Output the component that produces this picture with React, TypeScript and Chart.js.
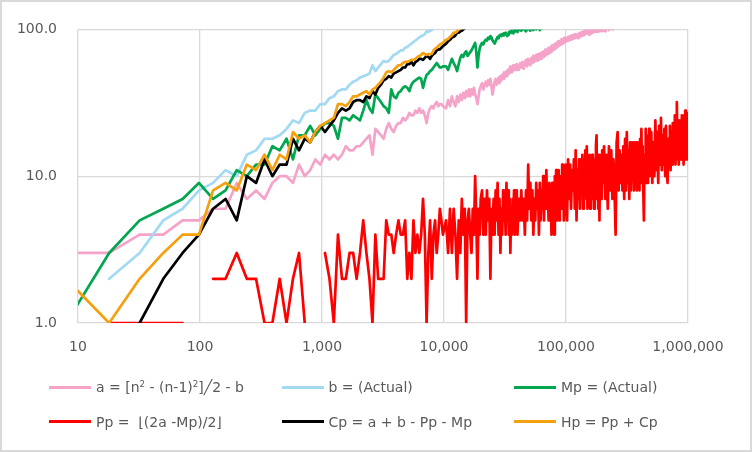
import { useEffect, useRef } from "react";
import { Chart, registerables } from "chart.js";

Chart.register(...registerables);

// x of the samples: n = 2..70 (x = 2n²), then a denser sampling up to 1,000,000
const X_LOW = [
  8, 18, 32, 50, 72, 98, 128, 162, 200, 242,
  288, 338, 392, 450, 512, 578, 648, 722, 800, 882,
  968, 1058, 1152, 1250, 1352, 1458, 1568, 1682, 1800, 1922,
  2048, 2178, 2312, 2450, 2592, 2738, 2888, 3042, 3200, 3362,
  3528, 3698, 3872, 4050, 4232, 4418, 4608, 4802, 5000, 5202,
  5408, 5618, 5832, 6050, 6272, 6498, 6728, 6962, 7200, 7442,
  7688, 7938, 8192, 8450, 8712, 8978, 9248, 9522, 9800,
];
const X_HIGH = [
  10400, 10800, 11200, 11600, 12000, 12400, 12800, 13200, 13600, 14000,
  14400, 14800, 15200, 15600, 16000, 16400, 16800, 17200, 17600, 18000,
  18400, 18800, 19200, 19600, 20000,
  20500, 21000, 21500, 22000, 22500, 23000, 23500, 24000, 24500, 25000,
  25500, 26000, 26500, 27000, 27500, 28000, 28500, 29000, 29500, 30000,
  30500, 31000, 31500, 32000, 32500, 33000, 33500, 34000, 34500, 35000,
  35500, 36000, 36500, 37000, 37500, 38000, 38500, 39000, 39500, 40000,
  41000, 42000, 43000, 44000, 45000, 46000, 47000, 48000, 49000, 50000,
  51000, 52000, 53000, 54000, 55000, 56000, 57000, 58000, 59000, 60000,
  61000, 62000, 63000, 64000, 65000, 66000, 67000, 68000, 69000, 70000,
  71000, 72000, 73000, 74000, 75000, 76000, 77000, 78000, 79000, 80000,
  81000, 82000, 83000, 84000, 85000, 86000, 87000, 88000, 89000, 90000,
  91000, 92000, 93000, 94000, 95000, 96000, 97000, 98000, 99000, 100000,
  102000, 104000, 106000, 108000, 110000, 112000, 114000, 116000, 118000, 120000,
  122000, 124000, 126000, 128000, 130000, 132000, 134000, 136000, 138000, 140000,
  142000, 144000, 146000, 148000, 150000, 152000, 154000, 156000, 158000, 160000,
  162000, 164000, 166000, 168000, 170000, 172000, 174000, 176000, 178000, 180000,
  182000, 184000, 186000, 188000, 190000, 192000, 194000, 196000, 198000, 200000,
  205000, 210000, 215000, 220000, 225000, 230000, 235000, 240000, 245000, 250000,
  255000, 260000, 265000, 270000, 275000, 280000, 285000, 290000, 295000, 300000,
  305000, 310000, 315000, 320000, 325000, 330000, 335000, 340000, 345000, 350000,
  355000, 360000, 365000, 370000, 375000, 380000, 385000, 390000, 395000, 400000,
  405000, 410000, 415000, 420000, 425000, 430000, 435000, 440000, 445000, 450000,
  455000, 460000, 465000, 470000, 475000, 480000, 485000, 490000, 495000, 500000,
  510000, 520000, 530000, 540000, 550000, 560000, 570000, 580000, 590000, 600000,
  610000, 620000, 630000, 640000, 650000, 660000, 670000, 680000, 690000, 700000,
  710000, 720000, 730000, 740000, 750000, 760000, 770000, 780000, 790000, 800000,
  810000, 820000, 830000, 840000, 850000, 860000, 870000, 880000, 890000, 900000,
  910000, 920000, 930000, 940000, 950000, 960000, 970000, 980000, 990000, 1000000,
];

const A_LOW = [
  3, 3, 4, 4, 5, 5, 6, 6, 9, 7,
  8, 7, 9, 10, 10, 9, 12, 10, 11, 13,
  12, 14, 13, 14, 13, 14, 16, 15, 15, 16,
  16, 17, 18, 19, 14, 21, 20, 19, 18, 21,
  23, 21, 20, 22, 23, 23, 25, 24, 25, 27,
  26, 26, 28, 27, 29, 27, 28, 26, 23, 27,
  29, 30, 29, 31, 32, 30, 31, 31, 30,
];
const A_HIGH = [
  29, 33, 30, 35, 32, 30, 35, 32, 36, 33,
  37, 34, 38, 35, 39, 35, 39, 36, 40, 36,
  34, 31, 35, 39, 41,
  43, 39, 42, 44, 41, 45, 42, 46, 41, 36,
  40, 44, 46, 42, 45, 47, 43, 48, 45, 49,
  46, 51, 47, 50, 52, 48, 53, 50, 54, 56,
  51, 55, 52, 57, 53, 55, 57, 53, 58, 55,
  53, 59, 55, 60, 54, 59, 62, 56, 63, 59,
  57, 64, 59, 66, 60, 65, 67, 61, 68, 62,
  65, 69, 63, 70, 65, 71, 66, 73, 67, 72,
  68, 75, 69, 74, 76, 70, 78, 72, 77, 79,
  73, 80, 75, 81, 76, 83, 77, 82, 78, 84,
  79, 86, 80, 85, 81, 87, 82, 88, 83, 87,
  83, 89, 84, 90, 85, 91, 86, 92, 87, 93,
  88, 92, 87, 94, 89, 95, 90, 96, 91, 97,
  92, 98, 100, 94, 99, 93, 98, 92, 97, 100,
  94, 99, 95, 101, 96, 100, 102, 97, 101, 96,
  98, 103, 97, 102, 98, 104, 99, 97, 103, 105,
  98, 97, 102, 104, 99, 103, 105, 100, 104, 106,
  103, 108, 111,
];

const B_LOW = [
  null, 2, 3, 5, 6, 8, 9, 11, 10, 14,
  15, 18, 18, 19, 21, 24, 23, 27, 28, 28,
  31, 31, 34, 35, 38, 39, 39, 42, 44, 45,
  47, 48, 49, 50, 57, 52, 55, 58, 61, 60,
  61, 64, 67, 68, 70, 72, 72, 75, 76, 78,
  80, 82, 84, 86, 88, 90, 91, 93, 97, 96,
  98, 99, 101, 103, 104, 107,
];

const MP_LOW = [
  1, 3, 5, 6, 7, 9, 7, 8, 11, 10,
  12, 12, 16, 15, 18, 13, 19, 19, 22, 19,
  21, 23, 23, 22, 18, 25, 25, 24, 26, 25,
  24, 28, 33, 29, 27, 36, 34, 32, 30, 29,
  27, 39, 35, 34, 37, 38, 40, 41, 40, 38,
  42, 44, 45, 46, 47, 46, 40, 45, 49, 50,
  52, 53, 55, 57, 59, 57, 55, 55, 56,
];
const MP_HIGH = [
  56, 53, 58, 63, 59, 56, 52, 58, 64, 67,
  65, 69, 71, 66, 68, 70, 72, 75, 78, 81,
  70, 55, 66, 74, 78,
  81, 79, 83, 85, 84, 88, 86, 90, 88, 84,
  82, 80, 83, 86, 89, 87, 91, 92, 90, 93,
  91, 94, 92, 95, 93, 90, 92, 96, 94, 97,
  95, 98, 96, 94, 97, 99, 97, 100, 98, 96,
  99, 101, 98, 100, 103, 99, 97, 101, 104, 100,
  98, 102, 105, 99, 101, 104, 100, 103, 106, 101,
  99, 104, 107, 102, 108, 110,
];

const PP_LOW = [
  null, 1, 1, 1, 1, null, 2, 2, 3, 2,
  2, 1, 1, 2, 1, 2, 3, 1, null, null,
  null, 3, 2, 1, 4, 2, 2, 3, 3, 2,
  3, 5, 3, 2, 1, 4, 2, 2, 2, 5,
  4, 4, 3, 4, 5, 4, 4, 5, 2, 3,
  2, 5, 3, 4, 3, 4, 7, 4, 1, 3,
  5, 2, 4, 5, 3, 4, 6, 5, 4,
];
const PP_HIGH = [
  5, 3, 6, 3, 6, 4, 2, 5, 3, 7,
  4, 6, 1, 5, 6, 4, 3, 6, 4, 10,
  5, 2, 6, 4, 7,
  8, 4, 7, 4, 8, 5, 7, 2, 6, 4,
  7, 4, 8, 5, 9, 4, 7, 3, 6, 4,
  8, 5, 7, 4, 9, 5, 8, 4, 7, 3,
  6, 4, 7, 5, 8, 4, 7, 5, 8, 4,
  7, 5, 8, 5, 7, 4, 8, 5, 12, 6,
  9, 5, 8, 4, 7, 5, 9, 6, 8, 4,
  9, 5, 8, 6, 10, 5, 9, 6, 11, 6,
  8, 5, 9, 5, 8, 4, 9, 5, 7, 4,
  10, 6, 11, 5, 9, 6, 11, 5, 10, 6,
  9, 6, 12, 7, 11, 5, 10, 6, 12, 6,
  5, 13, 7, 12, 6, 11, 8, 13, 6, 15,
  5, 11, 7, 13, 6, 12, 8, 14, 6, 13,
  7, 15, 8, 16, 6, 12, 7, 14, 6, 13,
  8, 14, 7, 12, 6, 13, 7, 16, 19, 7,
  12, 6, 14, 5, 13, 8, 14, 7, 15, 9,
  16, 7, 14, 6, 16, 8, 15, 7, 13, 8,
  4, 17, 20, 8, 15, 9, 14, 8, 16, 7,
  18, 8, 20, 9, 15, 7, 17, 8, 16, 10,
  17, 8, 15, 9, 17, 8, 16, 9, 17, 8,
  18, 9, 21, 10, 16, 8, 5, 14, 9, 21,
  10, 19, 9, 17, 11, 21, 10, 18, 11, 20,
  9, 17, 10, 24, 11, 20, 9, 22, 12, 25,
  11, 19, 12, 21, 10, 22, 11, 9, 18, 12,
  22, 11, 20, 12, 23, 13, 21, 26, 12, 23,
  32, 13, 24, 12, 22, 13, 24, 14, 26, 13,
  25, 12, 26, 14, 28, 13, 23, 27, 13, 22,
];

const CP_LOW = [
  null, null, 1, 2, 3, 4, 6, 7, 5, 10,
  9, 13, 10, 12, 12, 18, 15, 18, 17, 20,
  22, 20, 22, 24, 27, 29, 28, 29, 32, 33,
  33, 32, 35, 34, 38, 36, 40, 42, 45, 46,
  48, 47, 50, 51, 52, 53, 55, 55, 58, 58,
  60, 57, 60, 61, 63, 63, 62, 64, 66, 65,
  63, 66, 68, 69, 72, 73, 73, 75, 77,
];
const CP_HIGH = [80, 83, 85, 88, 89, 91, 95, 95, 97, 98, 100, 102, 104, 106];

const HP_LOW = [
  2, 1, 2, 3, 4, 4, 8, 9, 8, 12,
  11, 14, 11, 14, 13, 20, 18, 19, 17, 20,
  22, 23, 24, 25, 31, 31, 30, 32, 35, 35,
  36, 37, 38, 36, 39, 40, 42, 44, 47, 51,
  52, 51, 53, 55, 57, 57, 59, 60, 60, 61,
  62, 62, 63, 65, 66, 67, 69, 68, 67, 68,
  68, 68, 72, 74, 75, 77, 79, 80, 81,
];
const HP_HIGH = [85, 86, 89, 91, 95, 95, 97, 100, 101, 105, 105, 105, 105, 110];

const X_TICKS = [10, 100, 1000, 10000, 100000, 1000000];
const Y_TICKS = [1, 10, 100];

const COLORS = {
  a: "#F5A3C9",
  b: "#A3DAF3",
  Mp: "#00A650",
  Pp: "#FF0000",
  Cp: "#000000",
  Hp: "#F5A00F",
};

const FONT = "'DejaVu Sans', 'Open Sans', sans-serif";
const TEXT = "#595959";

const sup = { fontSize: "0.62em", verticalAlign: "0.55em", lineHeight: 0 } as const;

const LEGEND = [
  { color: COLORS.a, col: 0, row: 0, label: (<>a = [n<span style={sup}>2</span> - (n-1)<span style={sup}>2</span>]╱2 - b</>) },
  { color: COLORS.b, col: 1, row: 0, label: <>b = (Actual)</> },
  { color: COLORS.Mp, col: 2, row: 0, label: <>Mp = (Actual)</> },
  { color: COLORS.Pp, col: 0, row: 1, label: <>Pp =  ⌊(2a -Mp)/2⌋</> },
  { color: COLORS.Cp, col: 1, row: 1, label: <>Cp = a + b - Pp - Mp</> },
  { color: COLORS.Hp, col: 2, row: 1, label: <>Hp = Pp + Cp</> },
];
const LEGEND_COLS = [49, 281.5, 514];
const LEGEND_ROWS = [387.3, 421.7];

export default function App() {
  const ref = useRef<HTMLCanvasElement | null>(null);

  useEffect(() => {
    document.body.style.margin = "0";
    const canvas = ref.current;
    if (!canvas) return;
    const X = [...X_LOW, ...X_HIGH];
    const series = [
      { key: "a", values: [...A_LOW, ...A_HIGH], color: COLORS.a, order: 6 },
      { key: "b", values: B_LOW, color: COLORS.b, order: 5 },
      { key: "Mp", values: [...MP_LOW, ...MP_HIGH], color: COLORS.Mp, order: 4 },
      { key: "Pp", values: [...PP_LOW, ...PP_HIGH], color: COLORS.Pp, order: 3 },
      { key: "Cp", values: [...CP_LOW, ...CP_HIGH], color: COLORS.Cp, order: 2 },
      { key: "Hp", values: [...HP_LOW, ...HP_HIGH], color: COLORS.Hp, order: 1 },
    ];
    const datasets = series.map((s) => ({
      label: s.key,
      data: X.map((x, i) => ({ x, y: i < s.values.length ? s.values[i] : null })),
      borderColor: s.color,
      backgroundColor: s.color,
      borderWidth: 2.7,
      pointRadius: 0,
      tension: 0,
      fill: false,
      spanGaps: false,
      order: s.order,
      borderJoinStyle: "round" as const,
      borderCapStyle: "round" as const,
    }));
    const chart = new Chart(canvas, {
      type: "line",
      data: { datasets: datasets as any },
      options: {
        animation: false,
        responsive: false,
        maintainAspectRatio: false,
        layout: { padding: { left: 0, right: 64, top: 24, bottom: 69 } },
        plugins: { legend: { display: false }, tooltip: { enabled: false } },
        scales: {
          x: {
            type: "logarithmic",
            min: 10,
            max: 1000000,
            afterBuildTicks: (s: any) => {
              s.ticks = X_TICKS.map((v) => ({ value: v }));
            },
            afterFit: (s: any) => {
              s.height = 60;
            },
            grid: { color: "#D9D9D9", lineWidth: 1.3, drawTicks: false },
            border: { display: false },
            ticks: {
              padding: 16,
              color: TEXT,
              autoSkip: false,
              maxRotation: 0,
              font: { family: FONT, size: 14 },
              callback: (v: any) => Number(v).toLocaleString("en-US"),
            },
          },
          y: {
            type: "logarithmic",
            min: 1,
            max: 100,
            afterBuildTicks: (s: any) => {
              s.ticks = Y_TICKS.map((v) => ({ value: v }));
            },
            afterFit: (s: any) => {
              s.width = 78;
            },
            grid: { color: "#D9D9D9", lineWidth: 1.3, drawTicks: false },
            border: { display: false },
            ticks: {
              padding: 21,
              color: TEXT,
              autoSkip: false,
              font: { family: FONT, size: 14 },
              callback: (v: any) => Number(v).toFixed(1),
            },
          },
        },
      },
    });
    return () => chart.destroy();
  }, []);

  return (
    <div style={{ position: "relative", width: 752, height: 452, background: "#fff", overflow: "hidden" }}>
      <canvas ref={ref} width={752} height={452} style={{ position: "absolute", left: 0, top: 0, width: 752, height: 452 }} />
      {LEGEND.map((item, i) => (
        <div
          key={i}
          style={{
            position: "absolute",
            left: LEGEND_COLS[item.col],
            top: LEGEND_ROWS[item.row] - 11,
            height: 22,
            display: "flex",
            alignItems: "center",
            whiteSpace: "pre",
            fontFamily: FONT,
            fontSize: 14,
            color: TEXT,
          }}
        >
          <span style={{ display: "inline-block", width: 42, height: 3, background: item.color, marginRight: 5 }} />
          <span>{item.label}</span>
        </div>
      ))}
      <div style={{ position: "absolute", inset: 0, border: "2px solid #D9D9D9", pointerEvents: "none" }} />
    </div>
  );
}
